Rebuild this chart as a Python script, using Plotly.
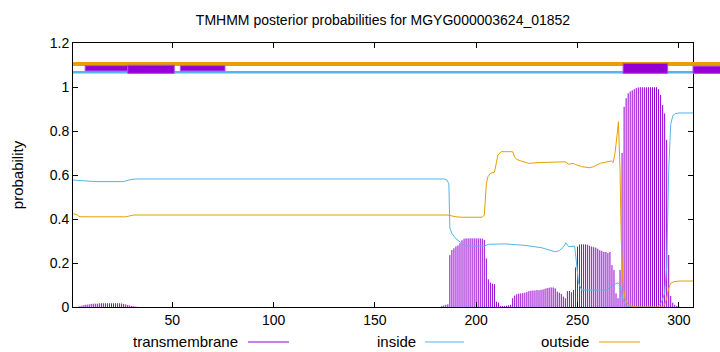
import plotly.graph_objects as go

# ---------------- data ----------------
seq_len = 307

# inside probability (line vertices: residue, value)
inside_x = [1, 3, 6, 12, 26, 29, 32, 184, 185.5, 186.5, 187, 188, 189, 190, 192, 194, 196, 204, 206, 214,
            224, 232, 239, 241, 243, 244.3, 245.6, 247, 248.6, 249.5, 250.5, 252, 264, 266, 268, 270, 271,
            272, 273, 274, 276, 289, 290, 291, 292, 293, 294, 295, 296, 297, 298, 300, 307]
inside_y = [0.577, 0.576, 0.572, 0.570, 0.570, 0.578, 0.582, 0.582, 0.578, 0.56, 0.36, 0.335, 0.322, 0.31,
            0.296, 0.282, 0.277, 0.277, 0.285, 0.287, 0.28, 0.27, 0.251, 0.256, 0.272, 0.292, 0.274, 0.276,
            0.277, 0.2, 0.11, 0.077, 0.077, 0.088, 0.102, 0.11, 0.1, 0.05, 0.02, 0.005, 0.0, 0.0, 0.005,
            0.015, 0.035, 0.065, 0.18, 0.62, 0.83, 0.868, 0.878, 0.882, 0.882]

# outside probability (line vertices)
outside_x = [1, 2, 3, 4, 5, 27, 29, 31, 186, 188, 190, 193, 203, 204, 205, 205.8, 207, 209, 210, 210.7,
             212.3, 218, 219, 220, 222, 224, 226, 230, 236, 244, 245.6, 248, 249, 252, 256, 258, 261.3,
             264, 266.7, 267.6, 268.5, 269.5, 270.2, 271, 271.6, 272.5, 273.5, 275, 277, 279, 292, 293,
             294, 295, 296, 297.5, 300, 307]
outside_y = [0.423, 0.423, 0.419, 0.412, 0.41, 0.41, 0.414, 0.418, 0.418, 0.413, 0.41, 0.408, 0.408, 0.418,
             0.56, 0.592, 0.608, 0.612, 0.66, 0.69, 0.706, 0.706, 0.68, 0.671, 0.664, 0.66, 0.653, 0.656,
             0.658, 0.66, 0.649, 0.653, 0.648, 0.638, 0.633, 0.638, 0.653, 0.658, 0.664, 0.656, 0.7, 0.78,
             0.842, 0.62, 0.3, 0.1, 0.035, 0.01, 0.002, 0.0, 0.0, 0.01, 0.04, 0.085, 0.108, 0.115, 0.118,
             0.118]

# transmembrane probability per residue (impulses), nonzero residues only
tm_x = list(range(4, 34)) + list(range(183, 301))
tm_y = [0.003, 0.005, 0.008, 0.010, 0.011, 0.012, 0.014, 0.015, 0.015, 0.015, 0.017, 0.017, 0.017, 0.017,
        0.017, 0.017, 0.017, 0.017, 0.017, 0.017, 0.017, 0.016, 0.014, 0.012, 0.009, 0.007, 0.005, 0.003,
        0.002, 0.001,
        # 183..
        0.005, 0.007, 0.010, 0.012, 0.236, 0.259, 0.267, 0.275, 0.280, 0.290,
        0.303, 0.310, 0.312, 0.312, 0.312, 0.312, 0.312, 0.312, 0.312, 0.312,
        0.311, 0.305, 0.221, 0.126, 0.111, 0.106, 0.104, 0.024, 0.020, 0.004,
        0.004, 0.005, 0.006, 0.008, 0.010, 0.040, 0.052, 0.058, 0.061, 0.062,
        0.063, 0.065, 0.068, 0.072, 0.074, 0.075, 0.075, 0.077, 0.076, 0.078,
        0.080, 0.083, 0.086, 0.088, 0.089, 0.089, 0.085, 0.070, 0.065, 0.059,
        0.047, 0.040, 0.072, 0.073, 0.067, 0.077, 0.180, 0.275, 0.284, 0.285,
        0.285, 0.285, 0.283, 0.278, 0.275, 0.272, 0.270, 0.265, 0.258, 0.255,
        0.250, 0.250, 0.245, 0.250, 0.190, 0.168, 0.062, 0.040, 0.168, 0.700,
        0.910, 0.949, 0.971, 0.980, 0.985, 0.990, 0.995, 0.998, 0.999, 0.999,
        0.999, 0.999, 0.999, 0.999, 0.999, 0.999, 0.999, 0.990, 0.964, 0.918,
        0.880, 0.760, 0.236, 0.050, 0.020, 0.010, 0.005, 0.003]

# topology bars drawn above the curves: (start, end, y_low, y_high)
outside_band = [(1, 321, 1.096, 1.114)]
inside_band = [(1, 321, 1.061, 1.073)]
tm_boxes = [(7, 28, 1.073, 1.097), (28, 51, 1.062, 1.099), (54, 76, 1.073, 1.097),
            (272.5, 294.5, 1.062, 1.107), (307, 322, 1.062, 1.095)]

x_ticks = [50, 100, 150, 200, 250, 300]
y_ticks = [0, 0.2, 0.4, 0.6, 0.8, 1.0, 1.2]
y_ticktext = ["0", "0.2", "0.4", "0.6", "0.8", "1", "1.2"]

title_text = "TMHMM posterior probabilities for MGYG000003624_01852"
legend_names = ["transmembrane", "inside", "outside"]

PURPLE = "#9400d3"
BLUE = "#56b4e9"
ORANGE = "#e69f00"

# ---------------- geometry ----------------
W, H = 720, 352
L, R_PLOT, T, B = 73, 693, 43, 307          # main plot box in pixels
main_frac = (R_PLOT - L) / (W - L)           # x domain fraction of the main axis

fig = go.Figure()

# impulses for transmembrane
ix, iy = [], []
for xv, yv in zip(tm_x, tm_y):
    ix += [xv, xv, None]
    iy += [0, yv, None]
fig.add_trace(go.Scatter(x=ix, y=iy, mode="lines", line=dict(color=PURPLE, width=1),
                         showlegend=False, hoverinfo="skip"))
fig.add_trace(go.Scatter(x=inside_x, y=inside_y, mode="lines", line=dict(color=BLUE, width=1),
                         showlegend=False))
fig.add_trace(go.Scatter(x=outside_x, y=outside_y, mode="lines", line=dict(color=ORANGE, width=1),
                         showlegend=False))

# invisible trace on the wide overlay subplot so it is created
fig.add_trace(go.Scatter(x=[1], y=[0], xaxis="x2", yaxis="y2", mode="markers",
                         marker=dict(opacity=0), showlegend=False, hoverinfo="skip"))

shapes = []
for (x0, x1, y0, y1) in outside_band:
    shapes.append(dict(type="rect", xref="x2", yref="y2", x0=x0, x1=x1, y0=y0, y1=y1,
                       fillcolor=ORANGE, line=dict(width=0), layer="above"))
for (x0, x1, y0, y1) in inside_band:
    shapes.append(dict(type="rect", xref="x2", yref="y2", x0=x0, x1=x1, y0=y0, y1=y1,
                       fillcolor=BLUE, line=dict(width=0), layer="above"))
for (x0, x1, y0, y1) in tm_boxes:
    shapes.append(dict(type="rect", xref="x2", yref="y2", x0=x0, x1=x1, y0=y0, y1=y1,
                       fillcolor=PURPLE, line=dict(color="#b44ae6", width=1), layer="above"))


def px2paper_x(px):
    return (px - L) / (W - L)


def px2paper_y(py):
    return (B - py) / (B - T)


# manual legend (gnuplot style: text then sample line)
legend_colors = [PURPLE, BLUE, ORANGE]
legend_text_right = [240, 418, 591]
legend_line = [(248, 289), (425, 464), (599, 640)]
legend_y = 341
annotations = []
for name, col, tr, (l0, l1) in zip(legend_names, legend_colors, legend_text_right, legend_line):
    annotations.append(dict(text=name, xref="paper", yref="paper", x=px2paper_x(tr),
                            y=px2paper_y(legend_y), xanchor="right", yanchor="middle",
                            showarrow=False, font=dict(size=15, color="#000")))
    shapes.append(dict(type="line", xref="paper", yref="paper", x0=px2paper_x(l0), x1=px2paper_x(l1),
                       y0=px2paper_y(legend_y + 1), y1=px2paper_y(legend_y + 1),
                       line=dict(color=col, width=1)))

axis_common = dict(showline=True, linecolor="#000", linewidth=1, mirror="ticks", ticks="inside",
                   ticklen=5, tickcolor="#000", showgrid=False, zeroline=False,
                   tickfont=dict(size=14, color="#000"))

fig.update_layout(
    width=W, height=H,
    margin=dict(l=L, r=W - W, t=T, b=H - B, pad=0),
    paper_bgcolor="white", plot_bgcolor="rgba(0,0,0,0)",
    font=dict(family="Liberation Sans, Arial, sans-serif", color="#000"),
    title=dict(text=title_text, x=((L + R_PLOT) / 2) / W, xref="container", xanchor="center",
               y=1 - 20 / H, yref="container", yanchor="middle", font=dict(size=14, color="#000")),
    xaxis=dict(domain=[0, main_frac], range=[1, seq_len], tickvals=x_ticks, **axis_common),
    yaxis=dict(domain=[0, 1], range=[0, 1.2], tickvals=y_ticks, ticktext=y_ticktext,
               title=dict(text="probability", font=dict(size=15), standoff=22), **axis_common),
    xaxis2=dict(domain=[0, 1], range=[1, 1 + (seq_len - 1) / main_frac], visible=False,
                anchor="y2", fixedrange=True),
    yaxis2=dict(domain=[0, 1], range=[0, 1.2], visible=False, anchor="x2", fixedrange=True),
    shapes=shapes,
    annotations=annotations,
    showlegend=False,
)

fig.write_html("out.html")
